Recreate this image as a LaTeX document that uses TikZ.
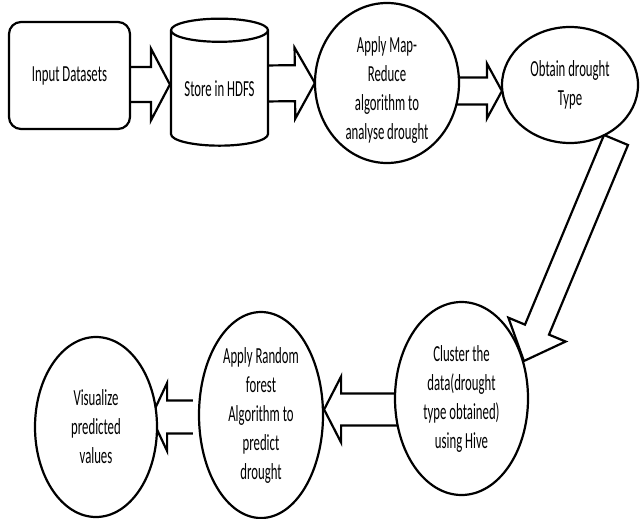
\documentclass[tikz,border=0pt]{standalone}
\usepackage{fontspec}
\setmainfont{Carlito}[FakeStretch=0.555]
\usepackage{tikz}
\usetikzlibrary{shapes.geometric, calc, backgrounds}

% hollow block arrow from #2 to #3: shaft half width #4, head half width #5, head length #6
\newcommand{\blockarrow}[6][]{%
    \path (#2) coordinate (ba-s) (#3) coordinate (ba-t);
    \path ($(ba-t)!#6!(ba-s)$) coordinate (ba-h);
    \draw[flowarrow] ($(ba-s)!#4!90:(ba-t)$) -- ($(ba-h)!#4!90:(ba-t)$)
        -- ($(ba-h)!#5!90:(ba-t)$) -- (ba-t) -- ($(ba-h)!#5!-90:(ba-t)$)
        -- ($(ba-h)!#4!-90:(ba-t)$) -- ($(ba-s)!#4!-90:(ba-t)$) #1;
}

\begin{document}
\begin{tikzpicture}[x=0.5pt, y=-0.5pt,
        font=\fontsize{11.5}{14.5}\selectfont,
        datbox/.style={draw, line width=1.1pt, rounded corners=6pt, fill=white, align=center, inner sep=0pt},
        hdfs/.style={draw, line width=1.1pt, cylinder, shape border rotate=90, aspect=0.33, fill=white, align=center, inner sep=0pt},
        bubble/.style={draw, line width=1.1pt, ellipse, fill=white, align=center, inner sep=0pt},
        flowarrow/.style={draw, line width=1.1pt, fill=white, line join=miter}]
        \useasboundingbox (0,0) rectangle (640,518);

        % Draw the top row
            \node[datbox, minimum width=60.5pt, minimum height=53.5pt] (input) at (69.5,75.5) {Input Datasets};
            \node[hdfs, minimum width=48.5pt, minimum height=63.5pt] (store) at (219.5,88.5) {Store in HDFS};
            \node[bubble, minimum width=72pt, minimum height=80pt,
                label={[align=center, yshift=-3.5pt]center:{Apply Map-\\Reduce\\algorithm to\\analyse drought}}] (mapred) at (387,83) {};
            \node[bubble, minimum width=68pt, minimum height=58pt] (obtain) at (570,85) {Obtain drought\\Type};

        % Draw the bottom row
            \node[bubble, minimum width=66.5pt, minimum height=96.5pt] (cluster) at (461.5,398.5) {Cluster the\\data(drought\\type obtained)\\using Hive};
            \node[bubble, minimum width=62pt, minimum height=103pt] (forest) at (261,415) {Apply Random\\forest\\Algorithm to\\predict\\drought};
            \node[bubble, minimum width=61pt, minimum height=90pt] (visual) at (96,427) {Visualize\\predicted\\values};

            \coordinate (droptop) at ($(obtain.center)+(46,55)$);

        % Draw the arrows
        \begin{scope}[on background layer]
            \blockarrow{[shift={(-5,9)}]input.east}{[shift={(0,-4)}]store.west}{8.75pt}{18pt}{9.5pt}
            \blockarrow{[shift={(-6,-5)}]store.east}{[shift={(1,0)}]mapred.west}{9pt}{17.75pt}{10pt}
            \blockarrow{[shift={(-4,8)}]mapred.east}{[shift={(1,6)}]obtain.west}{6.75pt}{13.75pt}{7.5pt}
            \blockarrow[-- cycle]{droptop}{cluster.31}{6.5pt}{15.5pt}{17pt}
            \blockarrow{[shift={(5,11)}]cluster.west}{[shift={(0,-5.5)}]forest.east}{8pt}{16.5pt}{8.5pt}
            \blockarrow{[shift={(-5,2)}]forest.west}{[shift={(-7,-10)}]visual.east}{8.25pt}{17pt}{8pt}
        \end{scope}
    \end{tikzpicture}
\end{document}
